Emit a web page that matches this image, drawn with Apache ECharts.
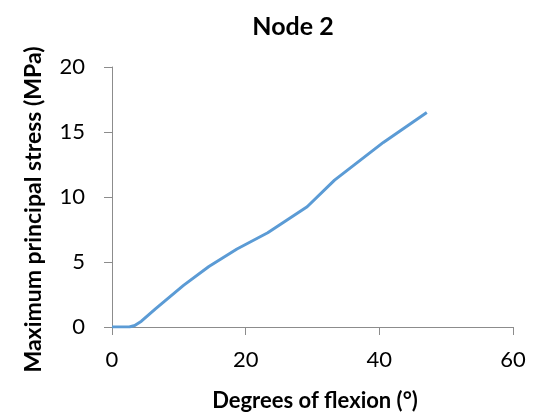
<!DOCTYPE html>
<html><head><meta charset="utf-8">
<script src="https://cdn.jsdelivr.net/npm/echarts@6/dist/echarts.min.js"></script>
<style>html,body{margin:0;padding:0;background:#fff}#c{width:535px;height:417px}</style>
</head><body><div id="c"></div>
<script>
const titleText = "Node 2";
const xName = "Degrees of flexion (°)";
const yName = "Maximum principal stress (MPa)";
const degrees = [0, 2.6, 3.4, 4.4, 6.5, 10.7, 14.5, 18.7, 23.3, 29.2, 33.3, 40.6, 47.1];
const stress  = [0, 0, 0.12, 0.45, 1.4, 3.2, 4.65, 6.0, 7.25, 9.25, 11.3, 14.2, 16.5];
const xTicks = [0, 20, 40, 60];
const yTicks = [0, 5, 10, 15, 20];

const font = "Lato, 'Open Sans', sans-serif";
const chart = echarts.init(document.getElementById('c'));
chart.setOption({
  animation: false,
  title: { text: titleText, left: 288, top: 9, textAlign: 'center',
    textStyle: { fontFamily: font, fontWeight: 'bold', fontSize: 25, color: '#000' } },
  grid: { left: 112, right: 22, top: 67, bottom: 89 },
  xAxis: {
    type: 'value', min: xTicks[0], max: xTicks[xTicks.length-1], interval: 20,
    name: xName, nameLocation: 'middle', nameGap: 63,
    nameTextStyle: { fontFamily: font, fontWeight: 'bold', fontSize: 22, color: '#000', padding: [0,0,0,5] },
    axisLine: { lineStyle: { color: '#8c8c8c', width: 1 } },
    axisTick: { show: true, length: 8, lineStyle: { color: '#8c8c8c' } },
    axisLabel: { fontFamily: font, fontSize: 22, color: '#000', margin: 22 },
    splitLine: { show: false }
  },
  yAxis: {
    type: 'value', min: yTicks[0], max: yTicks[yTicks.length-1], interval: 5,
    name: yName, nameLocation: 'middle', nameGap: 67,
    nameTextStyle: { fontFamily: font, fontWeight: 'bold', fontSize: 23, color: '#000', padding: [0,25,0,0] },
    axisLine: { show: true, lineStyle: { color: '#8c8c8c', width: 1 } },
    axisTick: { show: true, length: 8, lineStyle: { color: '#8c8c8c' } },
    axisLabel: { fontFamily: font, fontSize: 22, color: '#000', margin: 27 },
    splitLine: { show: false }
  },
  series: [{
    type: 'line', data: degrees.map((d, i) => [d, stress[i]]),
    showSymbol: false, smooth: false,
    lineStyle: { color: '#5B9BD5', width: 3 }
  }]
});
</script></body></html>
